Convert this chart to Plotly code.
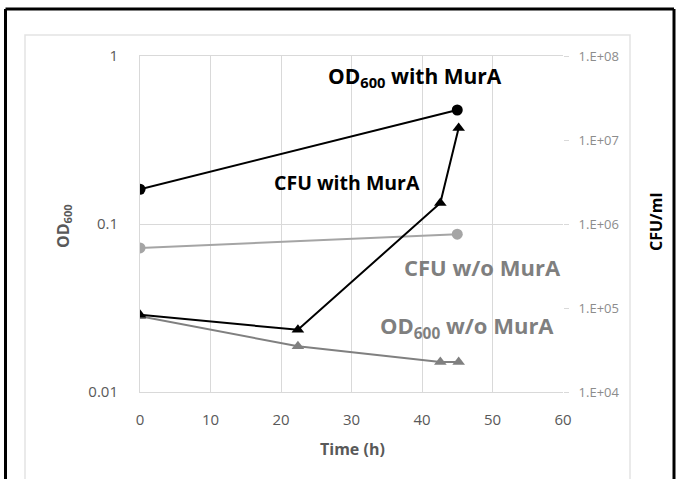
import plotly.graph_objects as go

# ---- data ----
time_od_with = [0, 45]
od_with_mura = [0.161, 0.477]

time_cfu_with = [0, 22.4, 42.6, 45.2]
cfu_with_mura = [8.3e4, 5.5e4, 1.78e6, 1.39e7]

time_grey_circ = [0, 45]
grey_circ_vals = [0.072, 0.087]          # left axis (OD scale)

time_grey_tri = [0, 22.4, 42.6, 45.2]
grey_tri_vals = [8.0e4, 3.5e4, 2.28e4, 2.28e4]  # right axis (CFU scale)

x_ticks = [0, 10, 20, 30, 40, 50, 60]
left_ticks = [0.01, 0.1, 1]
left_ticktext = ["0.01", "0.1", "1"]
right_ticks = [1e4, 1e5, 1e6, 1e7, 1e8]
right_ticktext = ["1.E+04", "1.E+05", "1.E+06", "1.E+07", "1.E+08"]

# ---- layout geometry (pixels) ----
W, H = 678, 479
L, R, T, B = 140, 563, 56, 392
PW, PH = R - L, B - T


def px(x):
    return (x - L) / PW


def py(y):
    return (B - y) / PH


FONT = "Open Sans"
GRID = "#d9d9d9"

fig = go.Figure()

fig.add_trace(go.Scatter(x=time_grey_circ, y=grey_circ_vals, mode="lines+markers",
                         line=dict(color="#a5a5a5", width=2),
                         marker=dict(symbol="circle", size=11, color="#a5a5a5"),
                         yaxis="y", name="grey circles"))
fig.add_trace(go.Scatter(x=time_grey_tri, y=grey_tri_vals, mode="lines+markers",
                         line=dict(color="#808080", width=2),
                         marker=dict(symbol="triangle-up", size=11, color="#808080"),
                         yaxis="y2", name="grey triangles"))
fig.add_trace(go.Scatter(x=time_cfu_with, y=cfu_with_mura, mode="lines+markers",
                         line=dict(color="#000000", width=2),
                         marker=dict(symbol="triangle-up", size=11, color="#000000"),
                         yaxis="y2", name="CFU with MurA"))
fig.add_trace(go.Scatter(x=time_od_with, y=od_with_mura, mode="lines+markers",
                         line=dict(color="#000000", width=2),
                         marker=dict(symbol="circle", size=11, color="#000000"),
                         yaxis="y", name="OD600 with MurA"))

fig.update_layout(
    width=W, height=H,
    margin=dict(l=L, r=W - R, t=T, b=H - B, pad=0),
    paper_bgcolor="white", plot_bgcolor="white",
    showlegend=False,
    font=dict(family=FONT, color="#595959"),
    xaxis=dict(range=[0, 60], tickvals=x_ticks, showgrid=True, gridcolor=GRID,
               gridwidth=1, zeroline=False, showline=True, linecolor=GRID,
               mirror=True, ticks="", tickfont=dict(size=15, color="#595959"),
               ticklabelstandoff=14),
    yaxis=dict(type="log", range=[-2, 0], tickvals=left_ticks, ticktext=left_ticktext,
               showgrid=True, gridcolor=GRID, zeroline=False, showline=True,
               linecolor=GRID, ticks="", tickfont=dict(size=15, color="#595959"),
               ticklabelstandoff=18),
    yaxis2=dict(type="log", range=[4, 8], tickvals=right_ticks, ticktext=right_ticktext,
                overlaying="y", side="right", showgrid=False, zeroline=False,
                showline=False, ticks="outside", ticklen=5, tickcolor=GRID,
                tickfont=dict(size=13, color="#8c8c8c"), ticklabelstandoff=7),
)


def note(text, x, y, size, color, angle=0):
    return dict(text=text, x=px(x), y=py(y), xref="paper", yref="paper",
                xanchor="center", yanchor="middle", showarrow=False,
                textangle=angle, font=dict(size=size, color=color, family=FONT))


ann = [
    note("<b>Time (h)</b>", 352, 449, 16, "#595959"),
    note("<b>OD<sub>600</sub></b>", 63, 226, 16, "#595959", -90),
    note("<b>CFU/ml</b>", 656, 222, 16, "#000000", -90),
    note("<b>OD<sub>600</sub> with MurA</b>", 415, 77, 21, "#000000"),
    note("<b>CFU with MurA</b>", 347, 182, 19.5, "#000000"),
    note("<b>CFU w/o MurA</b>", 482, 267, 22, "#7f7f7f"),
    note("<b>OD<sub>600</sub> w/o MurA</b>", 467, 327, 22, "#7f7f7f"),
]
fig.update_layout(annotations=ann)

# chart frame (light grey) and outer black border
fig.add_shape(type="rect", xref="paper", yref="paper",
              x0=px(25), x1=px(630), y0=py(490), y1=py(35),
              line=dict(color="#e3e3e3", width=1.5), layer="below")
fig.add_shape(type="line", xref="paper", yref="paper",
              x0=px(5.5), x1=px(5.5), y0=py(490), y1=py(9), line=dict(color="black", width=3))
fig.add_shape(type="line", xref="paper", yref="paper",
              x0=px(5.5), x1=px(674), y0=py(9), y1=py(9), line=dict(color="black", width=3))
fig.add_shape(type="line", xref="paper", yref="paper",
              x0=px(674), x1=px(674), y0=py(490), y1=py(9), line=dict(color="black", width=3))

fig.write_html("out.html")
